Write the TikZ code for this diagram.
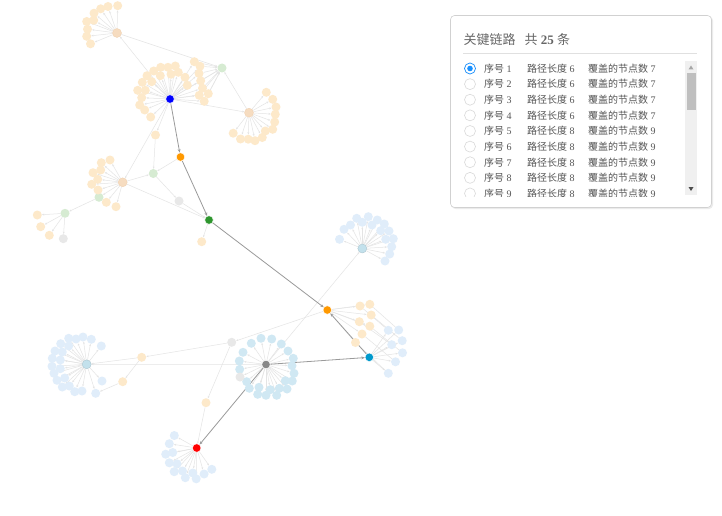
\documentclass[tikz,border=0pt]{standalone}
\usepackage{fontspec}
\setmainfont{Liberation Serif}
\newfontfamily\cjk{Noto Sans CJK SC}
\usetikzlibrary{arrows.meta}
\pgfdeclarelayer{bg}
\pgfsetlayers{bg,main}
\definecolor{lo}{HTML}{FDE9CA}
\definecolor{lot}{HTML}{F6DCC0}
\definecolor{lb}{HTML}{E0EDFA}
\definecolor{lc}{HTML}{D0E8F3}
\definecolor{lbh}{HTML}{C3E1EC}
\definecolor{lg}{HTML}{D6EBD2}
\definecolor{lgr}{HTML}{E8E8E8}
\definecolor{edgec}{HTML}{E4E4E4}
\definecolor{pathc}{HTML}{9A9A9A}
\definecolor{txt}{HTML}{555555}
\definecolor{ttl}{HTML}{666666}
\definecolor{radio}{HTML}{D9D9D9}
\definecolor{sel}{HTML}{1890FF}
\tikzset{
  dot/.style={circle,inner sep=0pt,minimum size=9pt},
  leafO/.style={dot,fill=lo},
  leafB/.style={dot,fill=lb},
  leafC/.style={dot,fill=lc},
  leafG/.style={dot,fill=lg},
  leafR/.style={dot,fill=lgr},
  hubT/.style={dot,fill=lot,draw=lot!85!brown,line width=0.3pt},
  hubB/.style={dot,fill=lbh,draw=lbh!85!black,line width=0.3pt},
  mainn/.style={dot,minimum size=8.5pt,draw=white,line width=0.4pt},
  le/.style={draw=edgec,line width=0.5pt,-{Stealth[length=2.2pt,width=1.8pt]}},
  ln/.style={draw=edgec,line width=0.5pt},
  pe/.style={draw=pathc,line width=0.8pt,-{Stealth[length=3.5pt,width=2.8pt]}},
  rowtxt/.style={anchor=west,inner sep=0pt,font=\fontsize{10}{12}\selectfont,text=txt},
  radiob/.style={draw=radio,fill=white,line width=0.6pt}
}
\begin{document}
\begin{tikzpicture}[x=1pt,y=-1pt]
\useasboundingbox (0,0) rectangle (722,516);

% ---------- hubs and small nodes ----------
\node[hubT] (H1) at (117,33) {};
\node[leafG] (G1) at (222,68) {};
\node[hubT] (H2) at (249,112.7) {};
\node[leafO] (O1) at (155.5,135) {};
\node[hubT] (H3) at (122.7,182.3) {};
\node[leafG] (G2) at (153.3,173.5) {};
\node[leafR] (GR1) at (179,201) {};
\node[leafG] (GN) at (99,197.3) {};
\node[leafG] (H4) at (65,213.3) {};
\node[leafO] (O5) at (201.7,241.7) {};
\node[hubB] (H5) at (362.3,248.5) {};
\node[leafR] (N) at (231.7,342.3) {};
\node[leafO] (O2) at (141.7,357.3) {};
\node[leafO] (O3) at (122.7,381.7) {};
\node[hubB] (H6) at (86.7,364.3) {};
\node[leafO] (O4) at (206,402.7) {};

% ---------- leaves ----------
\foreach \x/\y [count=\i] in {117.7/5.7,108/6.5,100.7/8.8,94/13.2,86.7/21.5,93.7/20.3,87.5/29.2,86.7/36.3,90.5/43.8}
  {\node[leafO] (l1-\i) at (\x,\y) {};}
\foreach \x/\y [count=\i] in {160.7/67.3,168/67.3,175.3/66,153.7/71,147/75.7,160.3/75.7,171/74.3,178.3/72.3,185/77.3,142.3/82.3,151.7/81.7,187.3/85.3,137.7/90.3,145.3/90.3,141.7/97.7,139.7/105,144.7/110,150.7/117}
  {\node[leafO] (la-\i) at (\x,\y) {};}
\foreach \x/\y [count=\i] in {194.3/61.7,200/66.2,199/73.5,200.7/80.8,202.5/88.2,199.2/95.3,208.3/93.7,204.2/101.3}
  {\node[leafO] (lar-\i) at (\x,\y) {};}
\foreach \x/\y [count=\i] in {266.3/92.3,272.7/99.3,276/107,275.3/114.3,274.7/122,272.7/129.3,265.3/131,262.3/137.5,255/140.7,248.2/139.2,240.5/139,233.2/133.2}
  {\node[leafO] (l2-\i) at (\x,\y) {};}
\foreach \x/\y [count=\i] in {110/160,101.3/162.7,93/172.7,100.7/170,91.7/184.3,97.7/179.3,98/190,106.3/202.3,116/206.7}
  {\node[leafO] (l3-\i) at (\x,\y) {};}
\foreach \x/\y [count=\i] in {37.3/215,40.7/226.7,49.3/235.3}
  {\node[leafO] (l4-\i) at (\x,\y) {};}
\node[leafR] (l4-4) at (63.3,238.7) {};
\foreach \x/\y [count=\i] in {339.5/239.3,344/229.3,350.5/225,356.7/218.3,362.3/222.3,368.3/216.7,372/225,377.3/220,380.7/230.7,384.3/224,389/231,385.7/239.3,393.3/238.7,391.7/246.7,389.7/254,385/261}
  {\node[leafB] (l5-\i) at (\x,\y) {};}
\foreach \x/\y [count=\i] in {251.3/343.3,261/338.3,271.7/339,281.3/344,288/351,293.3/358.3,292/365.7,294/373.3,292.3/381,287/389,279.3/388.3,270.3/389.7,276.7/395.3,266/395.3,257.7/394.3,259/387.3,249.3/388.3,246.7/381.7,239.7/369.3,239.3/361,243/352.3,285.3/380.7}
  {\node[leafC] (lf-\i) at (\x,\y) {};}
\node[leafR] (lf-23) at (240,377) {};
\foreach \x/\y [count=\i] in {360/306,369.8/304.3,371.2/315,359.3/321.7,369.8/326.2,362/334,355.5/342.5}
  {\node[leafO] (ld-\i) at (\x,\y) {};}
\foreach \x/\y [count=\i] in {388.3/330.3,398.7/330,402.2/340.7,391.7/344.7,402.5/352.8,395.5/361.8,388.3/373.3}
  {\node[leafB] (le-\i) at (\x,\y) {};}
\foreach \x/\y [count=\i] in {68.7/338.3,76/339,83/337,91.3/339.3,101.3/346,60.7/343.7,68.7/346,55/351,62.3/352,52.3/358.3,60.3/360,52/366.3,60.3/368.7,54/373.3,64.7/378,57/380.3,69.3/386,62.3/387,74.7/391.7,82/391,102/381}
  {\node[leafB] (l6-\i) at (\x,\y) {};}
\node[leafB] (l6-22) at (95.7,393.3) {};
\foreach \x/\y [count=\i] in {174.3/435.5,169.3/443.7,165.7/454.2,172.7/452.5,169.3/462.8,177/463.8,174.2/471.7,182.5/471,185.3/477.7,192.8/473,196.2/478.8,204.1/474,211.8/469.3}
  {\node[leafB] (lg-\i) at (\x,\y) {};}

% ---------- main path nodes ----------
\node[mainn,fill={rgb,255:red,0;green,0;blue,255}] (A) at (170,99) {};
\node[mainn,fill={rgb,255:red,255;green,153;blue,0}] (B) at (180.5,157) {};
\node[mainn,fill={rgb,255:red,46;green,150;blue,46}] (C) at (209,220) {};
\node[mainn,fill={rgb,255:red,255;green,153;blue,0}] (D) at (327.3,310) {};
\node[mainn,fill={rgb,255:red,0;green,153;blue,204}] (E) at (369.3,357.3) {};
\node[mainn,fill={rgb,255:red,136;green,136;blue,136}] (F) at (266,364.5) {};
\node[mainn,fill={rgb,255:red,255;green,0;blue,0}] (G) at (196.7,448) {};

% ---------- edges ----------
\begin{pgfonlayer}{bg}
\fill[white] (0,0) rectangle (722,516);
\foreach \i in {1,...,9} \draw[le] (H1) -- (l1-\i);
\foreach \i in {1,...,18} \draw[le] (A) -- (la-\i);
\foreach \i in {1,...,8} {\draw[le] (A) -- (lar-\i); \draw[le] (lar-\i) -- (G1);}
\foreach \i in {1,...,12} \draw[le] (H2) -- (l2-\i);
\foreach \i in {1,...,9} \draw[le] (H3) -- (l3-\i);
\foreach \i in {1,...,4} \draw[le] (H4) -- (l4-\i);
\foreach \i in {1,...,16} \draw[le] (H5) -- (l5-\i);
\foreach \i in {1,...,23} \draw[le] (F) -- (lf-\i);
\foreach \i in {1,...,7} {\draw[le] (D) -- (ld-\i); \draw[le] (E) -- (le-\i); \draw[ln] (ld-\i) -- (le-\i);}
\foreach \i in {1,...,22} \draw[le] (H6) -- (l6-\i);
\foreach \i in {1,...,13} \draw[le] (G) -- (lg-\i);
\draw[le] (A) -- (H1);
\draw[le] (H1) -- (G1);
\draw[le] (A) -- (G1);
\draw[le] (H2) -- (G1);
\draw[le] (A) -- (H2);
\draw[le] (A) -- (O1);
\draw[le] (O1) -- (G2);
\draw[le] (A) -- (H3);
\draw[le] (B) -- (G2);
\draw[le] (H3) -- (G2);
\draw[le] (G2) -- (GR1);
\draw[le] (GR1) -- (C);
\draw[le] (H3) -- (C);
\draw[le] (H3) -- (GN);
\draw[le] (GN) -- (H4);
\draw[le] (C) -- (O5);
\draw[le] (F) -- (H5);
\draw[le] (D) -- (N);
\draw[le] (N) -- (O2);
\draw[le] (O2) -- (H6);
\draw[le] (O2) -- (O3);
\draw[le] (O3) -- (l6-22);
\draw[le] (N) -- (O4);
\draw[le] (O4) -- (G);
\draw[le] (F) -- (H6);
% key path
\draw[pe] (A) -- (B);
\draw[pe] (B) -- (C);
\draw[pe] (C) -- (D);
\draw[pe] (E) -- (D);
\draw[pe] (F) -- (E);
\draw[pe] (F) -- (G);
\end{pgfonlayer}

% ---------- panel ----------
\fill[black!8,rounded corners=4pt] (451.5,16.5) rectangle (713,209);
\filldraw[fill=white,draw=black!18,line width=0.6pt,rounded corners=4pt] (450.5,15.5) rectangle (711.5,207.5);
\node[anchor=west,inner sep=0pt,text=ttl,font=\fontsize{13}{15}\selectfont] (title) at (463.5,40)
  {{\cjk 关键链路}\hspace{9pt}{\cjk 共} \textbf{25} {\cjk 条}};
\coordinate (sepl) at (463,53.5);
\coordinate (sepr) at (697,53.5);
\draw[black!12,line width=0.6pt] (sepl) -- (sepr);
% scrollbar
\fill[black!6] (685,61) rectangle (697,195);
\fill[black!25] (686.5,73) rectangle (696,110);
\fill[black!35] (688.5,69.5) -- (693.5,69.5) -- (691,65.5) -- cycle;
\fill[black!70] (688.5,187) -- (693.5,187) -- (691,191) -- cycle;
% rows
\begin{scope}
\clip (455,60) rectangle (684,196.5);
\foreach \n/\len/\cov [count=\i from 0] in {1/6/7,2/6/7,3/6/7,4/6/7,5/8/9,6/8/9,7/8/9,8/8/9,9/8/9}{
  \pgfmathsetmacro{\yy}{68.5+15.62*\i}
  \node[radiob,circle,minimum size=11pt,inner sep=0pt] (r\n) at (470,\yy) {};
  \node[rowtxt] (a\n) at (484,\yy) {{\cjk 序号} \n};
  \node[rowtxt] (b\n) at (527,\yy) {{\cjk 路径长度} \len};
  \node[rowtxt] (c\n) at (588,\yy) {{\cjk 覆盖的节点数} \cov};
}
\node[circle,draw=sel,fill=white,line width=0.7pt,minimum size=11pt,inner sep=0pt] (rsel) at (470,68.5) {};
\fill[sel] (rsel.center) circle (2.8pt);
\end{scope}
\end{tikzpicture}
\end{document}
